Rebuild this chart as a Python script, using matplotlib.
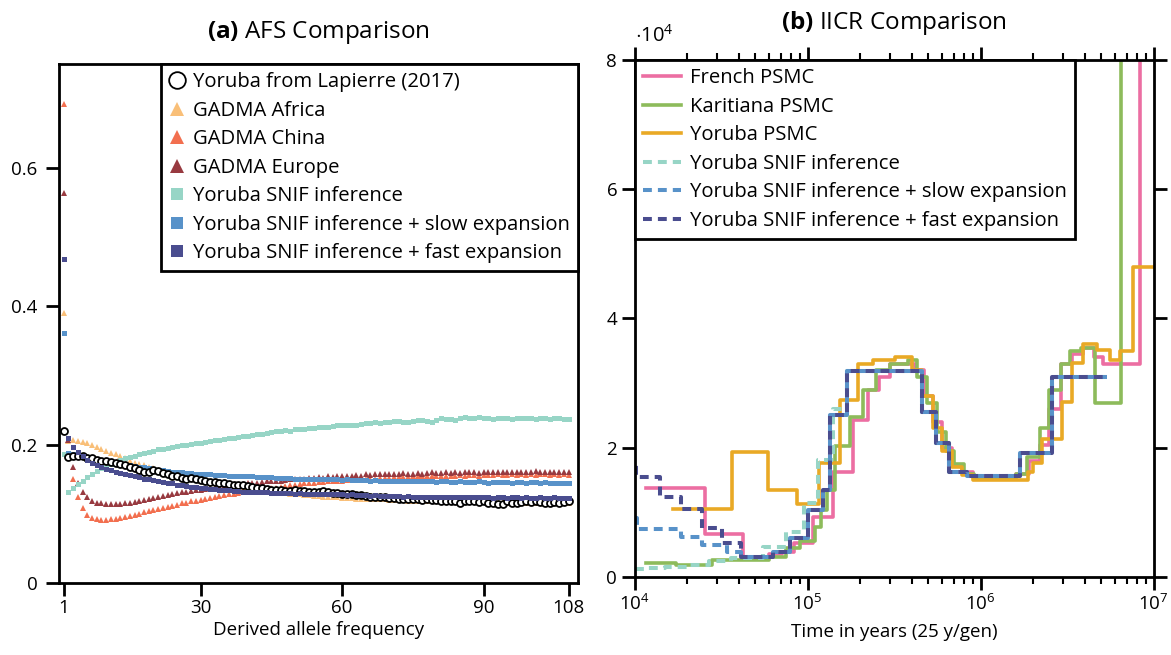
import numpy as np
import matplotlib
matplotlib.use('Agg')
import matplotlib.pyplot as plt
from matplotlib.ticker import FixedLocator, FuncFormatter, LogLocator, NullFormatter

FONT = 'Open Sans'
plt.rcParams.update({
    'font.family': [FONT, 'DejaVu Sans'],
    'mathtext.fontset': 'custom',
    'mathtext.rm': FONT,
    'mathtext.bf': FONT + ':bold',
    'mathtext.it': FONT + ':italic',
    'font.size': 13.5,
})
FS = 13.5
FS_L = 14.6
FS_T = 17.5

# ---------------- (a) AFS data ----------------
freq = np.arange(1, 109)
afs_lapierre = [
    .219, .182, .183, .184, .183, .181, .180, .178, .177, .176,
    .175, .173, .172, .170, .168, .166, .163, .161, .160, .163,
    .162, .159, .157, .155, .154, .152, .151, .152, .150, .149,
    .147, .146, .146, .145, .144, .143, .142, .142, .141, .140,
    .139, .138, .137, .136, .135, .134, .134, .133, .133, .134,
    .133, .133, .132, .131, .132, .133, .131, .130, .130, .129,
    .128, .128, .127, .127, .126, .125, .125, .124, .124, .123,
    .123, .122, .122, .122, .121, .121, .120, .121, .120, .120,
    .119, .119, .119, .118, .116, .118, .118, .119, .117, .118,
    .116, .115, .114, .114, .118, .115, .116, .117, .118, .117,
    .118, .117, .116, .115, .117, .115, .117, .118]
afs_africa = [
    .390, .205, .206, .205, .204, .202, .199, .197, .194, .191,
    .188, .186, .183, .180, .177, .174, .172, .170, .168, .166,
    .164, .162, .160, .158, .156, .154, .152, .151, .150, .148,
    .147, .146, .145, .144, .143, .142, .141, .140, .139, .138,
    .137, .136, .135, .134, .133, .132, .131, .130, .129, .129,
    .128, .127, .127, .126, .126, .125, .125, .124, .124, .123,
    .123, .123, .122, .122, .122, .121, .121, .121, .121, .120,
    .120, .120, .120, .119, .119, .119, .119, .119, .119, .118,
    .119, .118, .118, .118, .118, .117, .118, .117, .117, .117,
    .117, .117, .116, .117, .116, .117, .116, .116, .116, .117,
    .116, .116, .116, .115, .116, .116, .115, .116]
afs_china = [
    .692, .185, .151, .125, .108, .099, .094, .092, .091, .091,
    .092, .093, .094, .096, .097, .099, .100, .102, .104, .105,
    .107, .108, .110, .112, .113, .115, .116, .118, .119, .120,
    .122, .123, .124, .126, .127, .128, .129, .130, .131, .132,
    .133, .134, .135, .136, .137, .138, .139, .140, .141, .142,
    .143, .144, .145, .145, .146, .146, .147, .147, .148, .148,
    .149, .149, .150, .150, .151, .151, .151, .152, .152, .152,
    .153, .153, .153, .153, .154, .154, .154, .154, .155, .154,
    .155, .155, .155, .155, .156, .155, .156, .156, .155, .156,
    .156, .156, .157, .156, .156, .157, .156, .157, .156, .157,
    .156, .157, .157, .156, .157, .156, .157, .156]
afs_europe = [
    .564, .207, .167, .145, .131, .124, .119, .116, .115, .114,
    .114, .114, .114, .115, .116, .117, .119, .120, .122, .123,
    .124, .126, .127, .128, .130, .131, .132, .133, .134, .135,
    .136, .137, .138, .139, .140, .141, .142, .142, .143, .144,
    .145, .145, .146, .147, .147, .148, .148, .149, .150, .150,
    .151, .151, .152, .152, .153, .152, .154, .153, .154, .155,
    .154, .155, .156, .155, .157, .156, .157, .158, .157, .158,
    .157, .158, .159, .158, .158, .159, .158, .159, .160, .159,
    .159, .160, .159, .160, .159, .160, .161, .160, .159, .160,
    .161, .160, .160, .161, .160, .160, .161, .160, .160, .161,
    .162, .160, .161, .160, .161, .160, .160, .161]
afs_snif = [
    .186, .132, .138, .143, .148, .153, .158, .162, .166, .169,
    .172, .175, .178, .180, .182, .184, .186, .188, .190, .191,
    .193, .194, .195, .196, .198, .199, .200, .201, .202, .203,
    .204, .205, .206, .207, .208, .209, .210, .211, .212, .213,
    .214, .216, .215, .217, .218, .219, .220, .221, .220, .222,
    .222, .223, .224, .224, .226, .225, .226, .227, .228, .228,
    .229, .229, .228, .230, .231, .231, .232, .231, .232, .233,
    .234, .234, .233, .233, .234, .236, .235, .234, .233, .236,
    .238, .237, .237, .236, .238, .240, .239, .238, .240, .239,
    .238, .237, .239, .239, .238, .237, .238, .238, .238, .238,
    .237, .238, .238, .237, .238, .238, .237, .237]
afs_slow = [
    .361, .188, .186, .185, .184, .182, .180, .179, .178, .176,
    .175, .174, .172, .171, .170, .169, .168, .167, .166, .165,
    .164, .163, .162, .161, .161, .160, .159, .159, .158, .158,
    .157, .157, .156, .156, .156, .155, .155, .155, .154, .154,
    .154, .153, .153, .153, .153, .152, .152, .152, .152, .151,
    .151, .151, .151, .150, .151, .150, .150, .150, .150, .149,
    .150, .149, .149, .149, .149, .148, .149, .148, .148, .148,
    .148, .147, .148, .147, .147, .147, .148, .147, .147, .146,
    .147, .147, .146, .146, .147, .146, .146, .146, .147, .146,
    .145, .146, .146, .146, .146, .145, .146, .146, .145, .146,
    .146, .145, .146, .145, .145, .144, .144, .145]
afs_fast = [
    .468, .210, .196, .189, .183, .178, .174, .170, .168, .165,
    .163, .161, .159, .157, .156, .154, .153, .151, .150, .149,
    .147, .146, .145, .144, .142, .141, .140, .139, .139, .138,
    .137, .136, .136, .135, .134, .134, .133, .133, .132, .132,
    .132, .131, .131, .131, .130, .130, .130, .130, .130, .129,
    .130, .129, .129, .129, .129, .128, .128, .128, .128, .128,
    .127, .128, .127, .127, .127, .126, .127, .126, .126, .126,
    .126, .126, .125, .126, .125, .125, .125, .125, .125, .125,
    .124, .125, .124, .124, .125, .124, .124, .124, .124, .124,
    .124, .123, .124, .124, .123, .124, .124, .123, .124, .123,
    .123, .124, .123, .123, .124, .123, .123, .123]
afs_xticks = [1, 30, 60, 90, 108]
afs_yticks = [0, 0.2, 0.4, 0.6]

# ---------------- (b) IICR data (years; population size in units of 1e4) ----------------
french_t = [1.17e4, 2.57e4, 4.21e4, 6.0e4, 7.1e4, 8.4e4, 1.07e5, 1.40e5, 1.82e5, 2.25e5,
            2.6e5, 3.0e5, 3.6e5, 4.2e5, 4.7e5, 5.3e5, 6.0e5, 6.8e5, 7.8e5, 9.0e5,
            1.6e6, 1.9e6, 2.2e6, 2.5e6, 2.9e6, 3.4e6, 3.9e6, 4.5e6, 5.1e6, 8.3e6, 1.5e7]
french_v = [1.37, 0.66, 0.31, 0.35, 0.39, 0.52, 0.93, 1.63, 2.43, 2.9,
            3.1, 3.3, 3.3, 3.2, 2.8, 2.4, 2.0, 1.72, 1.62, 1.55,
            1.6, 1.8, 2.05, 2.6, 3.3, 3.45, 3.55, 3.4, 3.3, 9.0]
karit_t = [1.17e4, 1.73e4, 2.8e4, 6.0e4, 7.5e4, 9.1e4, 1.1e5, 1.2e5, 1.3e5, 1.45e5,
           1.75e5, 2.1e5, 2.5e5, 3.0e5, 3.8e5, 4.3e5, 4.9e5, 5.6e5, 6.3e5, 7.0e5,
           8.0e5, 9.2e5, 1.6e6, 1.85e6, 2.2e6, 2.5e6, 2.9e6, 3.3e6, 3.8e6, 4.6e6, 6.5e6, 1.5e7]
karit_v = [0.22, 0.19, 0.26, 0.31, 0.45, 0.55, 0.78, 1.04, 1.35, 2.02,
           2.48, 2.9, 3.2, 3.3, 3.35, 3.1, 2.7, 2.25, 1.95, 1.75,
           1.6, 1.52, 1.6, 1.85, 2.3, 2.9, 3.3, 3.5, 3.55, 2.7, 9.0]
yoruba_t = [1.66e4, 3.64e4, 5.93e4, 8.65e4, 1.17e5, 1.53e5, 1.95e5, 2.4e5, 3.2e5, 4.0e5,
            4.6e5, 5.3e5, 6.0e5, 6.8e5, 7.8e5, 9.0e5, 1.87e6, 2.0e6, 2.28e6, 2.61e6,
            2.94e6, 3.36e6, 3.89e6, 4.69e6, 5.57e6, 6.36e6, 7.56e6, 1.5e7]
yoruba_v = [1.05, 1.93, 1.34, 1.13, 1.76, 2.74, 3.3, 3.35, 3.4, 3.2,
            2.8, 2.3, 1.95, 1.7, 1.58, 1.5, 1.63, 1.76, 2.13, 2.13,
            2.71, 3.31, 3.6, 3.52, 3.35, 3.49, 4.8]
snif_t = [1.0e4, 1.2e4, 1.5e4, 2.0e4, 2.7e4, 3.6e4, 5.5e4, 7.5e4, 9.5e4, 1.15e5,
          1.4e5, 1.7e5, 4.6e5, 5.5e5, 6.6e5, 8.3e5, 1.7e6, 2.6e6, 5.4e6]
snif_v = [0.12, 0.14, 0.16, 0.19, 0.24, 0.29, 0.47, 0.7, 1.14, 1.81,
          2.6, 3.18, 2.56, 2.07, 1.63, 1.56, 1.92, 3.1]
slow_t = [1.0e4, 1.03e4, 1.85e4, 2.44e4, 3.4e4, 4.1e4, 6.3e4, 7.9e4, 1.0e5, 1.22e5,
          1.34e5, 1.7e5, 4.6e5, 5.5e5, 6.6e5, 8.3e5, 1.7e6, 2.6e6, 5.4e6]
slow_v = [0.91, 0.75, 0.62, 0.5, 0.39, 0.31, 0.38, 0.6, 1.04, 1.35,
          2.5, 3.18, 2.56, 2.07, 1.63, 1.56, 1.92, 3.1]
fast_t = [9.0e3, 1.02e4, 1.4e4, 1.85e4, 2.44e4, 3.19e4, 4.1e4, 6.3e4, 7.9e4, 1.0e5,
          1.22e5, 1.34e5, 1.7e5, 4.6e5, 5.5e5, 6.6e5, 8.3e5, 1.7e6, 2.6e6, 5.4e6]
fast_v = [1.81, 1.55, 1.24, 1.05, 0.76, 0.52, 0.31, 0.38, 0.6, 1.04,
          1.35, 2.5, 3.18, 2.56, 2.07, 1.63, 1.56, 1.92, 3.1]
iicr_yticks = [0, 2, 4, 6, 8]

# ---------------- figure ----------------
fig = plt.figure(figsize=(11.71, 6.55), dpi=100)
ax1 = fig.add_axes([0.0504, 0.1099, 0.4432, 0.7924])
ax2 = fig.add_axes([0.5419, 0.1191, 0.4432, 0.7893])

c_africa = '#f9bf78'
c_china = '#f26f4f'
c_europe = '#983a40'
c_snif = '#97d5c6'
c_slow = '#5892c9'
c_fast = '#4a4d8f'

ms_sq = 3.6
ms_tr = 4.3
ax1.plot(freq, afs_lapierre, ls='none', marker='o', ms=5.0, mfc='white', mec='black', mew=1.3,
         label='Yoruba from Lapierre (2017)', zorder=3)
ax1.plot(freq, afs_africa, ls='none', marker='^', ms=ms_tr, color=c_africa, mew=0,
         label='GADMA Africa', zorder=2)
ax1.plot(freq, afs_china, ls='none', marker='^', ms=ms_tr, color=c_china, mew=0,
         label='GADMA China', zorder=2)
ax1.plot(freq, afs_europe, ls='none', marker='^', ms=ms_tr, color=c_europe, mew=0,
         label='GADMA Europe', zorder=2)
ax1.plot(freq, afs_snif, ls='none', marker='s', ms=ms_sq, color=c_snif, mew=0,
         label='Yoruba SNIF inference', zorder=2)
ax1.plot(freq, afs_slow, ls='none', marker='s', ms=ms_sq, color=c_slow, mew=0,
         label='Yoruba SNIF inference + slow expansion', zorder=2)
ax1.plot(freq, afs_fast, ls='none', marker='s', ms=ms_sq, color=c_fast, mew=0,
         label='Yoruba SNIF inference + fast expansion', zorder=4)

ax1.set_xlim(0, 110)
ax1.set_ylim(0, 0.75)
ax1.xaxis.set_major_locator(FixedLocator(afs_xticks))
ax1.yaxis.set_major_locator(FixedLocator(afs_yticks))
ax1.yaxis.set_major_formatter(FuncFormatter(lambda v, p: '0' if v == 0 else f'{v:.1f}'))
ax1.tick_params(axis='y', direction='out', length=9.5, width=2, pad=6, right=False, labelsize=FS)
ax1.tick_params(axis='x', direction='out', length=9.5, width=2, pad=2, top=False, labelsize=FS)
ax1.set_xlabel('Derived allele frequency', fontsize=FS, labelpad=3)
ax1.set_title(r'$\mathbf{(a)}$ AFS Comparison', fontsize=FS_T, pad=19)
for s in ax1.spines.values():
    s.set_linewidth(2)

h, l = ax1.get_legend_handles_labels()
leg1 = ax1.legend(h, l, loc='upper right', bbox_to_anchor=(1.0, 1.0), borderaxespad=0,
                  fancybox=False, edgecolor='black', framealpha=1, fontsize=FS_L,
                  handlelength=0.8, handletextpad=0.4, labelspacing=0.42, markerscale=2.4,
                  borderpad=0.4)
leg1.get_frame().set_linewidth(2)

# ---------------- (b) ----------------
c_french = '#ec6ea2'
c_karit = '#8dbb5b'
c_yoruba = '#e9a925'

def steps(ax, t, v, **kw):
    return ax.step(t, list(v) + [v[-1]], where='post', **kw)

lw_s = 2.6
lw_d = 2.9
steps(ax2, french_t, french_v, color=c_french, lw=lw_s, label='French PSMC')
steps(ax2, karit_t, karit_v, color=c_karit, lw=lw_s, label='Karitiana PSMC')
steps(ax2, yoruba_t, yoruba_v, color=c_yoruba, lw=lw_s, label='Yoruba PSMC')
steps(ax2, snif_t, snif_v, color=c_snif, lw=lw_d, dashes=(2.2, 1.5), label='Yoruba SNIF inference')
steps(ax2, slow_t, slow_v, color=c_slow, lw=lw_d, dashes=(2.2, 1.5),
      label='Yoruba SNIF inference + slow expansion')
steps(ax2, fast_t, fast_v, color=c_fast, lw=lw_d, dashes=(2.2, 1.5),
      label='Yoruba SNIF inference + fast expansion')

ax2.set_xscale('log')
ax2.set_xlim(1e4, 1e7)
ax2.set_ylim(0, 8)
ax2.yaxis.set_major_locator(FixedLocator(iicr_yticks))
ax2.xaxis.set_major_locator(LogLocator(base=10, numticks=10))
ax2.xaxis.set_minor_locator(LogLocator(base=10, subs=np.arange(2, 10), numticks=20))
ax2.xaxis.set_minor_formatter(NullFormatter())
ax2.tick_params(which='major', direction='out', length=9.5, width=2, pad=3, top=True, right=True,
                labeltop=False, labelright=False, labelsize=FS)
ax2.tick_params(which='minor', direction='out', length=4.8, width=1.5, top=True, right=True)
ax2.set_xlabel('Time in years (25 y/gen)', fontsize=FS, labelpad=6)
ax2.set_title(r'$\mathbf{(b)}$ IICR Comparison', fontsize=FS_T, pad=22)
ax2.text(0.0, 1.025, r'$\cdot 10^{4}$', transform=ax2.transAxes, fontsize=14.5,
         ha='left', va='bottom')
for s in ax2.spines.values():
    s.set_linewidth(2)

leg2 = ax2.legend(loc='upper left', bbox_to_anchor=(0.0, 1.0), borderaxespad=0,
                  fancybox=False, edgecolor='black', framealpha=1, fontsize=FS_L,
                  handlelength=1.9, handletextpad=0.45, labelspacing=0.42, borderpad=0.4)
leg2.get_frame().set_linewidth(2)

fig.savefig('out.png', dpi=100)
